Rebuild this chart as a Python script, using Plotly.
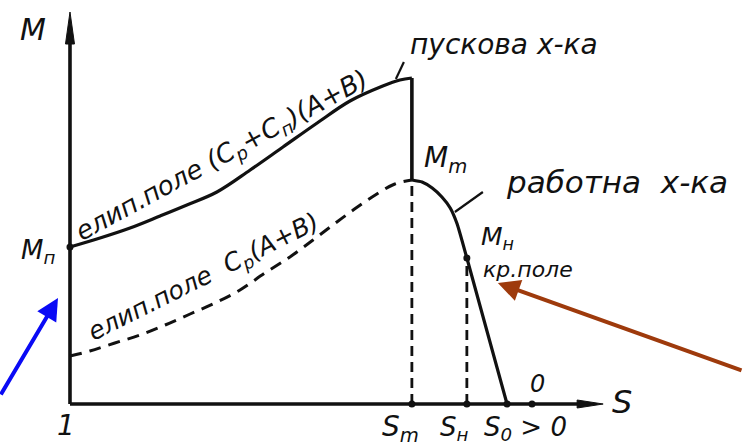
import plotly.graph_objects as go

# Torque M versus slip s (relative units), s = 1 at the origin, decreasing to the right
S_START = [1.000, 0.935, 0.870, 0.805, 0.747, 0.682, 0.610, 0.539, 0.465, 0.394, 0.323, 0.286, 0.260]
M_START = [1.57, 1.66, 1.76, 1.88, 1.99, 2.12, 2.34, 2.57, 2.81, 3.03, 3.18, 3.24, 3.26]

S_ELLIPTIC = [1.000, 0.957, 0.903, 0.848, 0.794, 0.740, 0.686, 0.632, 0.578, 0.524,
              0.474, 0.431, 0.390, 0.346, 0.297, 0.260]
M_ELLIPTIC = [0.48, 0.53, 0.61, 0.69, 0.79, 0.90, 1.01, 1.14, 1.31, 1.47,
              1.64, 1.79, 1.93, 2.07, 2.20, 2.24]

S_WORK = [0.260, 0.238, 0.216, 0.195, 0.177, 0.162, 0.141, 0.054]
M_WORK = [2.24, 2.22, 2.16, 2.07, 1.96, 1.80, 1.46, 0.00]

S_M, S_N, S_0 = 0.260, 0.141, 0.054
M_P, M_M, M_N = 1.57, 2.24, 1.46
M_PEAK = 3.26
M_AXIS_TOP = 3.92
S_AXIS_END = -0.154

W, H = 743, 446
X_RANGE = [1.1515, -0.4567]
Y_RANGE = [-0.42, 4.04]
SPX = (X_RANGE[0] - X_RANGE[1]) / W   # slip units per pixel
MPX = (Y_RANGE[1] - Y_RANGE[0]) / H   # torque units per pixel

FONT = "DejaVu Sans"
INK = "#111111"


def shift(s, m, dx=0.0, dy=0.0):
    """Move a data point by dx pixels right and dy pixels down."""
    return s - dx * SPX, m - dy * MPX


def at(xp, yp):
    return xp / W, 1 - yp / H


fig = go.Figure()


def line(xs, ys, width=3.2, dash=None, color=INK, smooth=None):
    ln = dict(color=color, width=width, dash=dash)
    if smooth:
        ln.update(shape="spline", smoothing=smooth)
    fig.add_trace(go.Scatter(x=xs, y=ys, mode="lines", hoverinfo="skip", line=ln))


# axes
line([1.0, 1.0], [0.0, M_AXIS_TOP - 20 * MPX], width=3.6)
line([1.0, S_AXIS_END + 20 * SPX], [0.0, 0.0], width=3.6)

# arrowheads
b1 = shift(1.0, M_AXIS_TOP, -4.5, 32)
b2 = shift(1.0, M_AXIS_TOP, 4.5, 32)
fig.add_trace(go.Scatter(x=[1.0, b1[0], b2[0], 1.0], y=[M_AXIS_TOP, b1[1], b2[1], M_AXIS_TOP],
                         mode="lines", fill="toself", fillcolor=INK, hoverinfo="skip",
                         line=dict(color=INK, width=1)))
c1 = shift(S_AXIS_END, 0.0, -26, -4)
c2 = shift(S_AXIS_END, 0.0, -26, 4)
fig.add_trace(go.Scatter(x=[S_AXIS_END, c1[0], c2[0], S_AXIS_END], y=[0.0, c1[1], c2[1], 0.0],
                         mode="lines", fill="toself", fillcolor=INK, hoverinfo="skip",
                         line=dict(color=INK, width=1)))

# starting characteristic (elliptic field with both capacitors)
line(S_START, M_START, width=3.2, smooth=1.0)
line([S_M, S_M], [M_PEAK, M_M], width=3.6)
# elliptic field with running capacitor only
line(S_ELLIPTIC, M_ELLIPTIC, width=3.0, dash="12px,8px", smooth=1.0)
# working characteristic
line(S_WORK, M_WORK, width=3.2, smooth=0.5)

# projections to the slip axis
line([S_M, S_M], [0.0, M_M], width=2.8, dash="10px,6px")
line([S_N, S_N], [0.0, M_N], width=2.8, dash="10px,6px")

# leader lines
p1 = shift(S_M, M_PEAK, -16, 1)
p2 = shift(S_M, M_PEAK, -8, -16)
line([p1[0], p2[0]], [p1[1], p2[1]], width=2.2)
q1 = shift(S_N, M_N, -12, -46)
q2 = shift(S_N, M_N, 16, -66)
line([q1[0], q2[0]], [q1[1], q2[1]], width=2.2)

# marked points
fig.add_trace(go.Scatter(x=[1.0, S_N, S_M, S_N, S_0, 0.0], y=[M_P, M_N, 0, 0, 0, 0],
                         mode="markers", hoverinfo="skip",
                         marker=dict(color=INK, size=7)))


def label(text, xp, yp, size, angle=0):
    x, y = at(xp, yp)
    fig.add_annotation(text=text, x=x, y=y, xref="paper", yref="paper",
                       xanchor="center", yanchor="middle", showarrow=False,
                       textangle=angle,
                       font=dict(family=FONT, size=size, color=INK, style="italic"))


label("M", 33, 30, 30)
label("M<sub>п</sub>", 38, 252, 26)
label("1", 66, 425, 28)
label("S<sub>m</sub>", 400, 428, 28)
label("S<sub>н</sub>", 454, 428, 26)
label("S<sub>0</sub> > 0", 525, 428, 26)
label("0", 537, 384, 24)
label("S", 622, 402, 32)
label("пускова х-ка", 504, 45, 28)
label("работна  х-ка", 617, 182, 31)
label("M<sub>m</sub>", 446, 160, 28)
label("M<sub>н</sub>", 497, 238, 25)
label("кр.поле", 528, 269, 22)
label("елип.поле (C<sub>р</sub>+C<sub>п</sub>)(A+B)", 222, 156, 26, -28.5)
label("елип.поле  C<sub>р</sub>(A+B)", 204, 278, 25, -26.6)

# pointers
tip_b = shift(1.0, 1.06, -12, 0)
fig.add_annotation(x=tip_b[0], y=tip_b[1], xref="x", yref="y", text="", showarrow=True,
                   ax=-70, ay=98, arrowhead=2, arrowsize=1.1, arrowwidth=4,
                   arrowcolor="#0a0af5")
tip_r = shift(S_N, M_N, 31, 25)
fig.add_annotation(x=tip_r[0], y=tip_r[1], xref="x", yref="y", text="", showarrow=True,
                   ax=255, ay=88, arrowhead=2, arrowsize=1.1, arrowwidth=4,
                   arrowcolor="#9e3a0c")

fig.update_layout(
    width=W, height=H, margin=dict(l=0, r=0, t=0, b=0),
    paper_bgcolor="white", plot_bgcolor="white", showlegend=False,
    xaxis=dict(range=X_RANGE, visible=False, showgrid=False, zeroline=False, fixedrange=True),
    yaxis=dict(range=Y_RANGE, visible=False, showgrid=False, zeroline=False, fixedrange=True),
)

fig.write_html("out.html")
